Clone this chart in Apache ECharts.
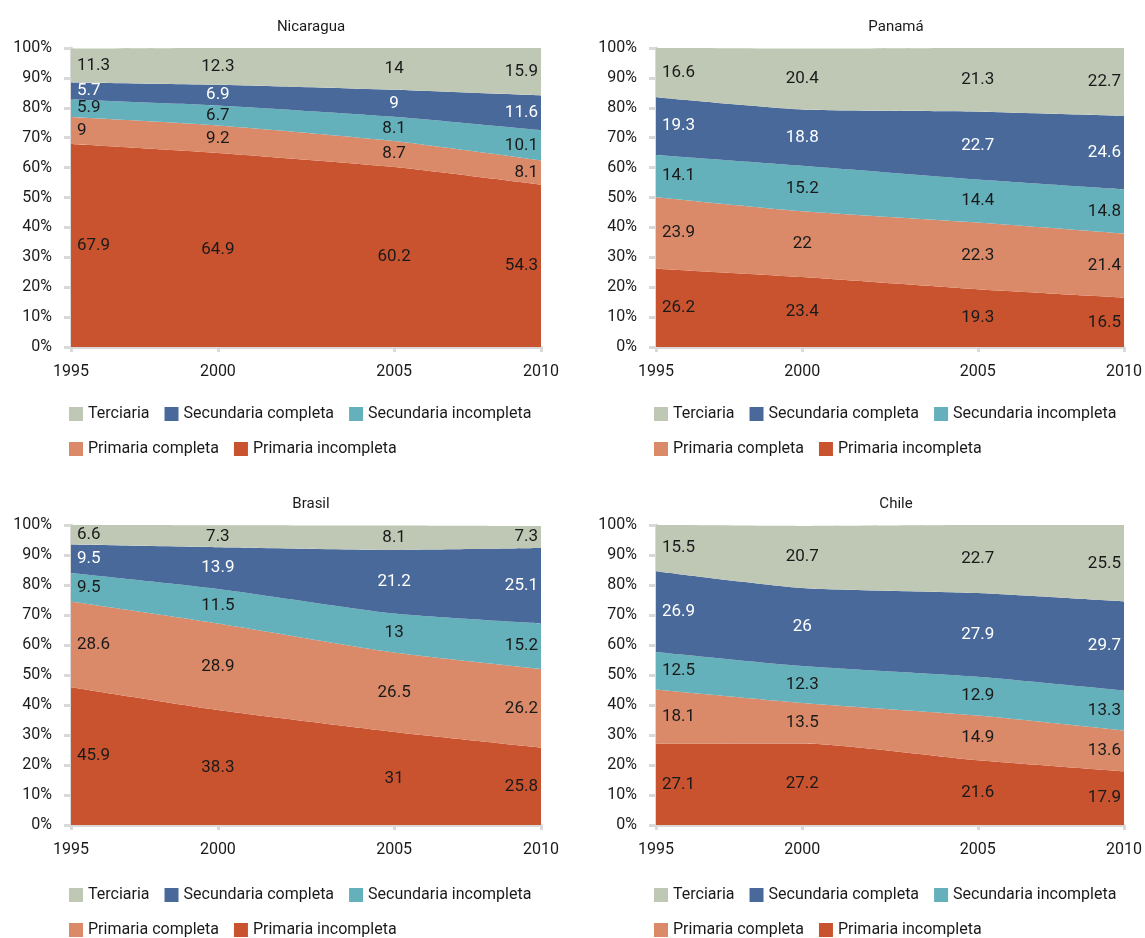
<!DOCTYPE html>
<html>
<head>
<meta charset="utf-8">
<script src="https://cdn.jsdelivr.net/npm/echarts@6/dist/echarts.min.js"></script>
</head>
<body style="margin:0;background:#fff">
<div id="main" style="width:1145px;height:938px;"></div>
<script>
// tick labels and categories
var years = ['1995', '2000', '2005', '2010'];
var levels = ['Primaria incompleta', 'Primaria completa', 'Secundaria incompleta', 'Secundaria completa', 'Terciaria'];
var countries = ['Nicaragua', 'Panamá', 'Brasil', 'Chile'];

// values per level, bottom to top (%)
var nicPrimInc = [67.9, 64.9, 60.2, 54.3];
var nicPrimCom = [9, 9.2, 8.7, 8.1];
var nicSecInc = [5.9, 6.7, 8.1, 10.1];
var nicSecCom = [5.7, 6.9, 9, 11.6];
var nicTerc = [11.3, 12.3, 14, 15.9];

var panPrimInc = [26.2, 23.4, 19.3, 16.5];
var panPrimCom = [23.9, 22, 22.3, 21.4];
var panSecInc = [14.1, 15.2, 14.4, 14.8];
var panSecCom = [19.3, 18.8, 22.7, 24.6];
var panTerc = [16.6, 20.4, 21.3, 22.7];

var braPrimInc = [45.9, 38.3, 31, 25.8];
var braPrimCom = [28.6, 28.9, 26.5, 26.2];
var braSecInc = [9.5, 11.5, 13, 15.2];
var braSecCom = [9.5, 13.9, 21.2, 25.1];
var braTerc = [6.6, 7.3, 8.1, 7.3];

var chiPrimInc = [27.1, 27.2, 21.6, 17.9];
var chiPrimCom = [18.1, 13.5, 14.9, 13.6];
var chiSecInc = [12.5, 12.3, 12.9, 13.3];
var chiSecCom = [26.9, 26, 27.9, 29.7];
var chiTerc = [15.5, 20.7, 22.7, 25.5];

var tables = [
    [nicPrimInc, nicPrimCom, nicSecInc, nicSecCom, nicTerc],
    [panPrimInc, panPrimCom, panSecInc, panSecCom, panTerc],
    [braPrimInc, braPrimCom, braSecInc, braSecCom, braTerc],
    [chiPrimInc, chiPrimCom, chiSecInc, chiSecCom, chiTerc]
];

// the source axis is not evenly spaced: the labelled years sit on these slots of 17
var yearSlot = [0, 5, 11, 16];
var slotNames = [];
for (var s = 0; s <= 16; s++) {
    var k = yearSlot.indexOf(s);
    slotNames.push(k >= 0 ? years[k] : 'slot' + s);
}
function isYear(index, value) { return years.indexOf(value) >= 0; }

var colors = ['#c9532f', '#da8a68', '#64b1bb', '#48699a', '#bfc8b5'];
var labelColors = ['#1a1a1a', '#1a1a1a', '#1a1a1a', '#ffffff', '#1a1a1a'];
var font = "Roboto, 'Liberation Sans', sans-serif";

var grids = [
    { left: 71, top: 48, width: 470, height: 299 },
    { left: 656, top: 48, width: 470, height: 299 },
    { left: 71, top: 525, width: 470, height: 300 },
    { left: 656, top: 525, width: 470, height: 300 }
];

var myChart = echarts.init(document.getElementById('main'));

var titles = [], xAxes = [], yAxes = [], legends = [], series = [];

countries.forEach(function (country, c) {
    var g = grids[c];
    titles.push({
        text: country,
        left: g.left + g.width / 2,
        top: g.top - 33,
        textAlign: 'center',
        textStyle: { fontFamily: font, fontSize: 15, fontWeight: 'normal', color: '#1a1a1a' }
    });
    xAxes.push({
        type: 'category',
        gridIndex: c,
        data: slotNames,
        boundaryGap: false,
        axisLine: { lineStyle: { color: '#d9d9d9', width: 3 } },
        axisTick: { show: true, interval: isYear, length: 5, lineStyle: { color: '#d9d9d9', width: 3 } },
        axisLabel: {
            interval: isYear,
            margin: 17,
            fontFamily: font,
            fontSize: 16,
            color: '#1a1a1a'
        }
    });
    yAxes.push({
        type: 'value',
        gridIndex: c,
        min: 0,
        max: 100,
        interval: 10,
        splitLine: { show: false },
        axisLine: { show: true, lineStyle: { color: '#d9d9d9', width: 3 } },
        axisTick: { show: true, length: 7, lineStyle: { color: '#d9d9d9', width: 3 } },
        axisLabel: { margin: 19, fontFamily: font, fontSize: 16, color: '#1a1a1a', formatter: '{value}%' }
    });
    legends.push({
        left: g.left - 2,
        top: g.top + g.height + (c < 2 ? 57 : 60),
        padding: 0,
        itemWidth: 14,
        itemHeight: 14,
        itemGap: 15,
        icon: 'rect',
        textStyle: { fontFamily: font, fontSize: 16, color: '#1a1a1a', lineHeight: 20 },
        data: ['Terciaria', 'Secundaria completa', 'Secundaria incompleta', '', 'Primaria completa', 'Primaria incompleta']
    });

    var below = [0, 0, 0, 0];
    tables[c].forEach(function (vals, l) {
        var marks = vals.map(function (v, i) {
            var last = i === vals.length - 1;
            return {
                coord: [years[i], below[i] + v / 2],
                value: v,
                label: {
                    align: i === 0 ? 'left' : (last ? 'right' : 'center'),
                    offset: [i === 0 ? 6 : (last ? -3 : 0), 0]
                }
            };
        });
        vals.forEach(function (v, i) { below[i] += v; });
        series.push({
            name: levels[l],
            type: 'line',
            xAxisIndex: c,
            yAxisIndex: c,
            stack: 'edu' + c,
            smooth: 0.2,
            symbol: 'none',
            lineStyle: { width: 0 },
            itemStyle: { color: colors[l] },
            areaStyle: { color: colors[l], opacity: 1 },
            data: vals.map(function (v, i) { return [years[i], v]; }),
            markPoint: {
                symbol: 'circle',
                symbolSize: 0,
                silent: true,
                label: {
                    show: true,
                    position: 'inside',
                    formatter: '{c}',
                    fontFamily: font,
                    fontSize: 17,
                    color: labelColors[l]
                },
                data: marks
            }
        });
    });
});

myChart.setOption({
    animation: false,
    color: colors,
    title: titles,
    grid: grids,
    xAxis: xAxes,
    yAxis: yAxes,
    legend: legends,
    series: series
});
</script>
</body>
</html>
